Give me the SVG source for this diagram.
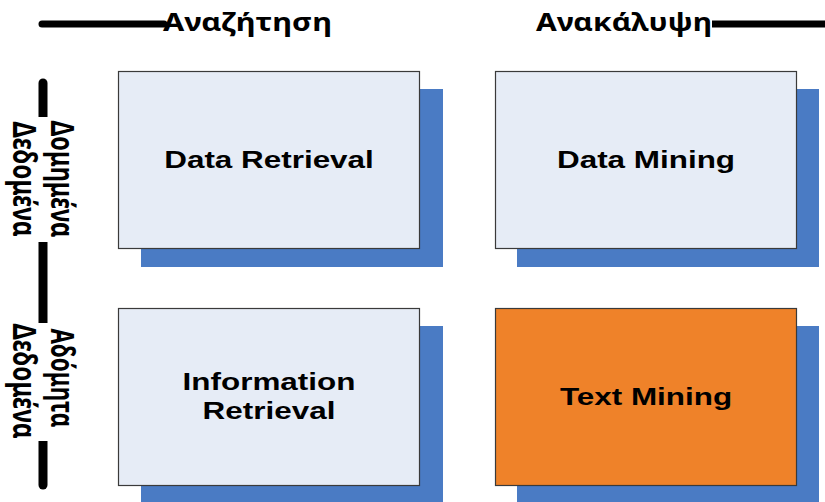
<svg xmlns="http://www.w3.org/2000/svg" width="825" height="502" viewBox="0 0 825 502">
  <style>
    .shadow { fill: #4A7BC4; }
    .box { fill: #E6ECF6; stroke: #3A3A3A; stroke-width: 1.2; }
    .box.hot { fill: #EF8229; }
    .label { font-family: "Liberation Sans", Arial, sans-serif; font-weight: bold; font-size: 24px; fill: #000; text-anchor: middle; }
    .axis { font-family: "Noto Sans", "DejaVu Sans", sans-serif; font-weight: bold; font-size: 25px; fill: #000; }
    .rule { stroke: #000; stroke-width: 7; fill: none; }
    .vrule { stroke: #000; stroke-width: 9; fill: none; stroke-linecap: round; }
  </style>

  <!-- axes: headers across the top, row labels down the left -->
  <g id="axes">
    <path class="rule" d="M42 24 H164" stroke-linecap="round"/>
    <path class="rule" d="M712 24 H830"/>
    <text class="axis" x="163" y="31" textLength="169" lengthAdjust="spacingAndGlyphs">Αναζήτηση</text>
    <text class="axis" x="536" y="31" textLength="176" lengthAdjust="spacingAndGlyphs">Ανακάλυψη</text>

    <path class="vrule" d="M43 83 V485"/>
    <rect x="6" y="117" width="74" height="125" fill="#fff"/>
    <rect x="6" y="323" width="74" height="118" fill="#fff"/>
    <g text-anchor="middle">
      <text class="axis" transform="translate(51,179) scale(1.31,1) rotate(90)" textLength="117" lengthAdjust="spacingAndGlyphs">Δομημένα</text>
      <text class="axis" transform="translate(13,179) scale(1.31,1) rotate(90)" textLength="115" lengthAdjust="spacingAndGlyphs">Δεδομένα</text>
      <text class="axis" transform="translate(51,378) scale(1.31,1) rotate(90)" textLength="99" lengthAdjust="spacingAndGlyphs">Αδόμητα</text>
      <text class="axis" transform="translate(13,381) scale(1.31,1) rotate(90)" textLength="115" lengthAdjust="spacingAndGlyphs">Δεδομένα</text>
    </g>
  </g>

  <g id="data-retrieval">
    <rect class="shadow" x="141" y="89" width="302" height="178"/>
    <rect class="box" x="118.5" y="71.5" width="301" height="177"/>
    <text class="label" transform="translate(269,168) scale(1.31,1)">Data Retrieval</text>
  </g>

  <g id="data-mining">
    <rect class="shadow" x="517" y="89" width="302" height="178"/>
    <rect class="box" x="495.5" y="71.5" width="301" height="177"/>
    <text class="label" transform="translate(646,168) scale(1.31,1)">Data Mining</text>
  </g>

  <g id="information-retrieval">
    <rect class="shadow" x="141" y="326" width="302" height="178"/>
    <rect class="box" x="118.5" y="308.5" width="301" height="177"/>
    <text class="label" transform="translate(269,390) scale(1.31,1)">Information</text>
    <text class="label" transform="translate(269,419) scale(1.31,1)">Retrieval</text>
  </g>

  <g id="text-mining">
    <rect class="shadow" x="517" y="326" width="302" height="178"/>
    <rect class="box hot" x="495.5" y="308.5" width="301" height="177"/>
    <text class="label" transform="translate(646,405) scale(1.31,1)">Text Mining</text>
  </g>
</svg>
